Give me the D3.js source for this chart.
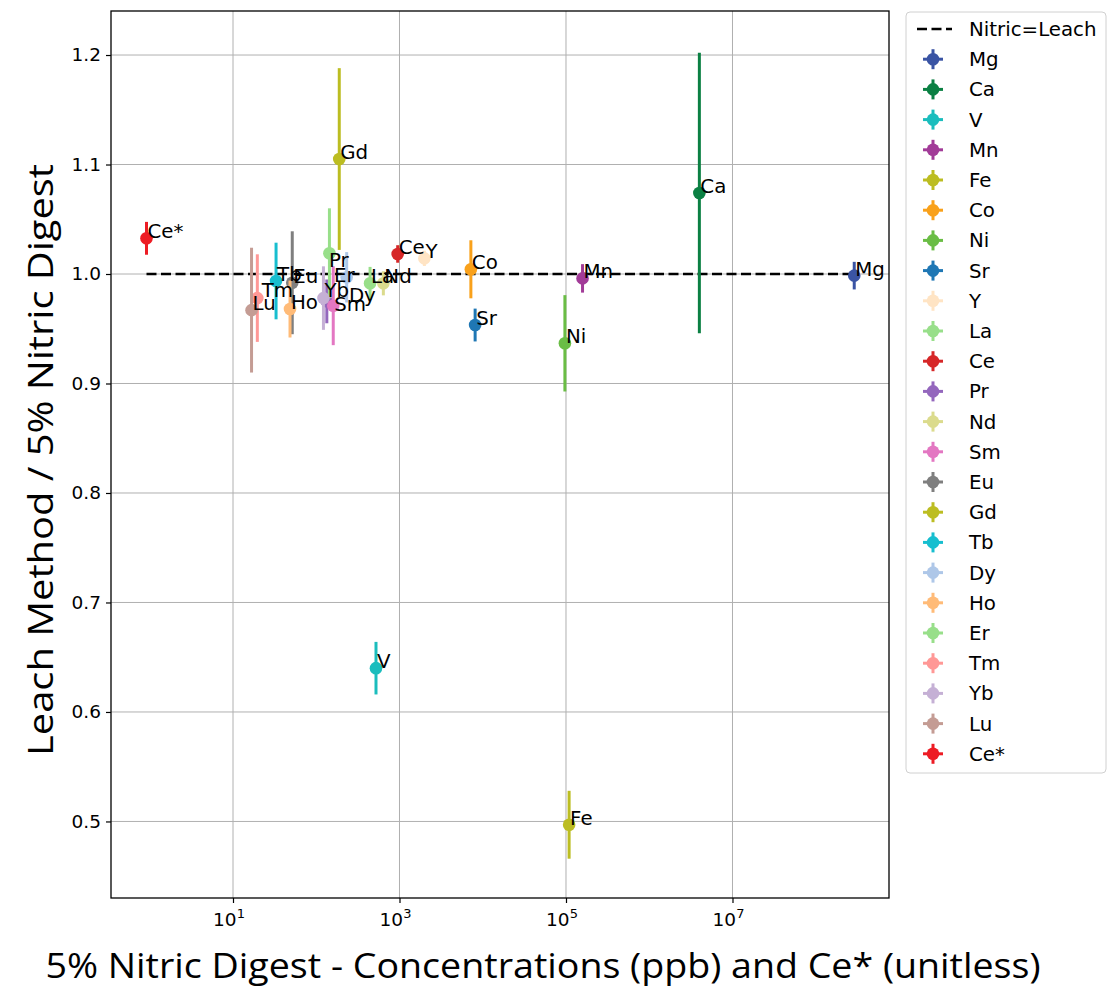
<!DOCTYPE html>
<html>
<head>
<meta charset="utf-8">
<script src="https://cdn.jsdelivr.net/npm/d3@7"></script>
<style>
	body { margin: 0; background: #fff; }
	svg { display: block; font-family: "DejaVu Sans", sans-serif; }
</style>
</head>
<body>
<div id="chart"></div>
<script>
// element names, in plotting / legend order
var elements = ["Mg", "Ca", "V", "Mn", "Fe", "Co", "Ni", "Sr", "Y", "La", "Ce", "Pr",
	"Nd", "Sm", "Eu", "Gd", "Tb", "Dy", "Ho", "Er", "Tm", "Yb", "Lu", "Ce*"];

// 5% nitric digest concentration (ppb), Ce* is unitless
var concentration = [2.9e8, 4.0e6, 522, 1.58e5, 1.09e5, 7.2e3, 9.7e4, 8.1e3, 1990, 443, 951, 134,
	640, 160, 51.5, 189, 32.9, 232, 48.4, 144, 19.6, 122, 16.7, 0.914];

// leach / nitric ratio and its error
var ratio = [0.9985, 1.074, 0.640, 0.996, 0.497, 1.0043, 0.9367, 0.9534, 1.0143, 0.9915, 1.0183, 0.975,
	0.9915, 0.971, 0.992, 1.105, 0.9936, 0.997, 0.968, 1.019, 0.978, 0.978, 0.967, 1.0326];
var ratioErr = [0.0126, 0.128, 0.024, 0.013, 0.031, 0.0265, 0.044, 0.015, 0.007, 0.015, 0.008, 0.02,
	0.011, 0.036, 0.047, 0.083, 0.035, 0.023, 0.026, 0.041, 0.040, 0.029, 0.057, 0.015];

// where each name was written (mostly at the point itself)
var labelConc = [2.9e8, 4.0e6, 522, 1.58e5, 1.09e5, 7.2e3, 9.7e4, 8.1e3, 1990, 443, 951, 138,
	640, 160, 51.5, 189, 32.9, 240, 48.4, 159, 21.5, 122, 16.7, 0.914];
var labelRatio = [0.9985, 1.074, 0.640, 0.996, 0.497, 1.0043, 0.9367, 0.9534, 1.0143, 0.9915, 1.0183, 1.0064,
	0.9915, 0.966, 0.992, 1.105, 0.9936, 0.9744, 0.968, 0.9927, 0.979, 0.979, 0.967, 1.0326];

var colors = ["#3a54a4", "#0b8043", "#1bbdbd", "#a23b98", "#bcbd22", "#f9a11b", "#6abd45", "#1f77b4",
	"#ffe4c4", "#98df8a", "#d62728", "#9467bd", "#dbdb8d", "#e377c2", "#7f7f7f", "#bcbd22",
	"#17becf", "#aec7e8", "#ffbb78", "#98df8a", "#ff9896", "#c5b0d5", "#c49c94", "#ed1c24"];

var xTicks = [1e1, 1e3, 1e5, 1e7];
var yTicks = [0.5, 0.6, 0.7, 0.8, 0.9, 1.0, 1.1, 1.2];

var width = 1109, height = 989;
var plot = { left: 111, right: 889, top: 11, bottom: 898 };
var fontSize = 19.8;

var svg = d3.select("#chart").append("svg")
	.attr("width", width)
	.attr("height", height);

var x = d3.scaleLog()
	.domain([Math.pow(10, -0.4655), Math.pow(10, 8.880)])
	.range([plot.left, plot.right]);

var y = d3.scaleLinear()
	.domain([0.4301, 1.2402])
	.range([plot.bottom, plot.top]);

// grid
var grid = svg.append("g").attr("stroke", "#b0b0b0").attr("stroke-width", 1);
grid.selectAll(".gx").data(xTicks).enter().append("line")
	.attr("x1", d => x(d)).attr("x2", d => x(d))
	.attr("y1", plot.top).attr("y2", plot.bottom);
grid.selectAll(".gy").data(yTicks).enter().append("line")
	.attr("x1", plot.left).attr("x2", plot.right)
	.attr("y1", d => y(d)).attr("y2", d => y(d));

// axes
var xAxis = svg.append("g")
	.attr("transform", "translate(0," + plot.bottom + ")")
	.call(d3.axisBottom(x).tickValues(xTicks).tickSize(5).tickFormat(""));
var yAxis = svg.append("g")
	.attr("transform", "translate(" + plot.left + ",0)")
	.call(d3.axisLeft(y).tickValues(yTicks).tickSize(5).tickFormat(d3.format(".1f")).tickPadding(5));
xAxis.select(".domain").remove();
yAxis.select(".domain").remove();
yAxis.selectAll("text").attr("font-size", 18.5).attr("font-family", "DejaVu Sans").attr("fill", "#000");
svg.selectAll(".tick line").attr("stroke", "#000").attr("stroke-width", 1.2);

// x tick labels as powers of ten
xTicks.forEach(function (t) {
	var txt = svg.append("text")
		.attr("x", x(t) - 4)
		.attr("y", plot.bottom + 28)
		.attr("text-anchor", "middle")
		.attr("font-size", 18.5);
	txt.append("tspan").text("10");
	txt.append("tspan")
		.attr("dy", -8)
		.attr("font-size", 13)
		.text(Math.round(Math.log10(t)));
});

// frame
svg.append("rect")
	.attr("x", plot.left).attr("y", plot.top)
	.attr("width", plot.right - plot.left).attr("height", plot.bottom - plot.top)
	.attr("fill", "none").attr("stroke", "#000").attr("stroke-width", 1.3);

// Nitric = Leach reference line over the data range
svg.append("line")
	.attr("x1", x(d3.min(concentration))).attr("x2", x(d3.max(concentration)))
	.attr("y1", y(1)).attr("y2", y(1))
	.attr("stroke", "#000").attr("stroke-width", 2.7)
	.attr("stroke-dasharray", "10,4.5");

// error bars and points
var marks = svg.append("g");
elements.forEach(function (el, i) {
	var g = marks.append("g");
	g.append("line")
		.attr("x1", x(concentration[i])).attr("x2", x(concentration[i]))
		.attr("y1", y(ratio[i] - ratioErr[i])).attr("y2", y(ratio[i] + ratioErr[i]))
		.attr("stroke", colors[i]).attr("stroke-width", 3);
	g.append("circle")
		.attr("cx", x(concentration[i])).attr("cy", y(ratio[i]))
		.attr("r", 6.3)
		.attr("fill", colors[i]);
});

// element names
svg.append("g").selectAll("text").data(elements).enter().append("text")
	.attr("x", (d, i) => x(labelConc[i]) + 1)
	.attr("y", (d, i) => y(labelRatio[i]))
	.attr("font-size", fontSize)
	.text(d => d);

// axis titles
svg.append("text")
	.attr("transform", "translate(53,460) rotate(-90)")
	.attr("text-anchor", "middle")
	.attr("font-family", "'Liberation Sans Narrow', 'Open Sans', sans-serif")
	.attr("font-size", 35)
	.attr("textLength", 592)
	.attr("lengthAdjust", "spacingAndGlyphs")
	.text("Leach Method / 5% Nitric Digest");
svg.append("text")
	.attr("x", 543).attr("y", 978)
	.attr("text-anchor", "middle")
	.attr("font-family", "'Liberation Sans Narrow', 'Open Sans', sans-serif")
	.attr("font-size", 35)
	.attr("textLength", 995)
	.attr("lengthAdjust", "spacingAndGlyphs")
	.text("5% Nitric Digest - Concentrations (ppb) and Ce* (unitless)");

// legend
var legend = svg.append("g");
var rowH = 30.2, firstRow = 29, handleX = 933, textX = 969;
legend.append("rect")
	.attr("x", 906).attr("y", 12).attr("width", 200).attr("height", 761)
	.attr("rx", 4).attr("fill", "#fff").attr("stroke", "#d0d0d0").attr("stroke-width", 1);
legend.append("line")
	.attr("x1", 917).attr("x2", 952).attr("y1", firstRow).attr("y2", firstRow)
	.attr("stroke", "#000").attr("stroke-width", 2.7).attr("stroke-dasharray", "10,4.5");
legend.append("text")
	.attr("x", textX).attr("y", firstRow + 7)
	.attr("font-size", fontSize)
	.text("Nitric=Leach");
elements.forEach(function (el, i) {
	var cy = firstRow + rowH * (i + 1);
	var item = legend.append("g").attr("fill", colors[i]).attr("stroke", colors[i]);
	item.append("line")
		.attr("x1", handleX).attr("x2", handleX).attr("y1", cy - 10).attr("y2", cy + 10)
		.attr("stroke-width", 3);
	item.append("line")
		.attr("x1", handleX - 10).attr("x2", handleX + 10).attr("y1", cy).attr("y2", cy)
		.attr("stroke-width", 3);
	item.append("circle")
		.attr("cx", handleX).attr("cy", cy).attr("r", 6.3).attr("stroke", "none");
	legend.append("text")
		.attr("x", textX).attr("y", cy + 7)
		.attr("font-size", fontSize)
		.text(el);
});
</script>
</body>
</html>
